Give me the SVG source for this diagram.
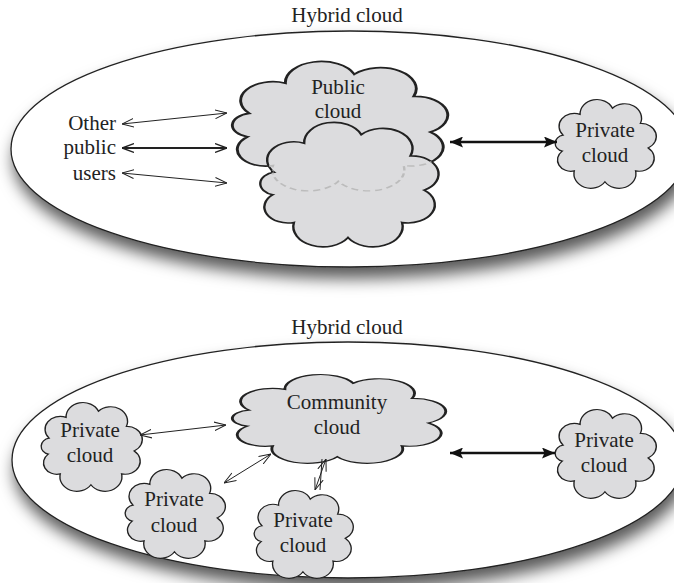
<svg xmlns="http://www.w3.org/2000/svg" xmlns:xlink="http://www.w3.org/1999/xlink" width="674" height="583" viewBox="0 0 674 583">
<style>
.lbl{font-family:"Liberation Serif","Times New Roman",serif;font-size:21px;fill:#222;text-anchor:middle}
.lblr{font-family:"Liberation Serif","Times New Roman",serif;font-size:21px;fill:#222;text-anchor:end}
.cloud{fill:#dcdcde;stroke:#222;stroke-width:1.2;vector-effect:non-scaling-stroke}
.hidden{fill:none;stroke:#bcbcbc;stroke-width:1;stroke-dasharray:3 2;vector-effect:non-scaling-stroke}
.hyb{fill:#fff;stroke:#222;stroke-width:1.3;filter:url(#shadow)}
.thin{fill:none;stroke:#222;stroke-width:1;marker-start:url(#open);marker-end:url(#open)}
.mid{fill:none;stroke:#222;stroke-width:2;marker-start:url(#open2);marker-end:url(#open2)}
.thick{fill:none;stroke:#111;stroke-width:2.6;marker-start:url(#solid);marker-end:url(#solid)}
</style>
<defs>
<filter id="shadow" x="-10%" y="-20%" width="125%" height="155%">
<feDropShadow dx="3" dy="11" stdDeviation="8" flood-color="#000" flood-opacity="0.65"/>
</filter>
<path id="cl" d="M13.3,40.2 A13.3,13.3 0 0 1 28.2,18.9 A14.8,14.8 0 0 1 56.6,12.6 A14.8,14.8 0 0 1 81.1,28.2 A13.3,13.3 0 0 1 87.9,53.3 A13.3,13.3 0 0 1 76.9,76.9 A14.8,14.8 0 0 1 50,88 A14.8,14.8 0 0 1 23.1,76.9 A11.7,11.7 0 0 1 12.6,56.6 A8.4,8.4 0 0 1 13.3,40.2 Z"/>
<clipPath id="lowclip"><use xlink:href="#cl" href="#cl" transform="translate(247.54,117.4) scale(2.009,1.366)"/></clipPath>
<marker id="open" viewBox="0 0 12 10" refX="12" refY="5" markerWidth="12" markerHeight="10" markerUnits="userSpaceOnUse" orient="auto-start-reverse"><path d="M0,0.6 L12,5 L0,9.4" fill="none" stroke="#222" stroke-width="1"/></marker>
<marker id="open2" viewBox="0 0 12 10" refX="12" refY="5" markerWidth="12" markerHeight="10" markerUnits="userSpaceOnUse" orient="auto-start-reverse"><path d="M0,0.6 L12,5 L0,9.4" fill="none" stroke="#222" stroke-width="1.4"/></marker>
<marker id="solid" viewBox="0 0 13 11" refX="13" refY="5.5" markerWidth="13" markerHeight="11" markerUnits="userSpaceOnUse" orient="auto-start-reverse"><path d="M0,0 L13,5.5 L0,11 L2.5,5.5 Z" fill="#111"/></marker>
</defs>
<rect width="674" height="583" fill="#fff"/>

<g id="hybrid-top">
<ellipse class="hyb" cx="350" cy="149" rx="339" ry="118"/>
<text class="lbl" x="347" y="22">Hybrid cloud</text>
</g>
<g id="public-cloud">
<use class="cloud" xlink:href="#cl" href="#cl" transform="translate(216.95,56.35) scale(2.427,1.42)"/>
<text class="lbl" x="338" y="94">Public</text>
<text class="lbl" x="338" y="118">cloud</text>
</g>
<g id="public-cloud-2">
<use class="cloud" xlink:href="#cl" href="#cl" transform="translate(247.54,117.4) scale(2.009,1.366)"/>
<g clip-path="url(#lowclip)"><use class="hidden" xlink:href="#cl" href="#cl" transform="translate(216.95,56.35) scale(2.427,1.42)"/></g>
</g>
<g id="users">
<text class="lblr" x="116" y="130">Other</text>
<text class="lblr" x="116" y="154">public</text>
<text class="lblr" x="116" y="180">users</text>
</g>
<g id="private-top">
<use class="cloud" xlink:href="#cl" href="#cl" transform="translate(547.93,96) scale(1.14,0.974)"/>
<text class="lbl" x="605" y="137">Private</text>
<text class="lbl" x="605" y="162">cloud</text>
</g>

<g id="hybrid-bottom">
<ellipse class="hyb" cx="348" cy="460" rx="336" ry="118"/>
<text class="lbl" x="347" y="334">Hybrid cloud</text>
</g>
<g id="community-cloud">
<use class="cloud" xlink:href="#cl" href="#cl" transform="translate(217.1,371) scale(2.404,0.974)"/>
<text class="lbl" x="337" y="409">Community</text>
<text class="lbl" x="337" y="434">cloud</text>
</g>
<g id="private-b1">
<use class="cloud" xlink:href="#cl" href="#cl" transform="translate(33.93,399) scale(1.14,0.974)"/>
<text class="lbl" x="90" y="437">Private</text>
<text class="lbl" x="90" y="462">cloud</text>
</g>
<g id="private-b2">
<use class="cloud" xlink:href="#cl" href="#cl" transform="translate(118,466) scale(1.129,0.974)"/>
<text class="lbl" x="174" y="506">Private</text>
<text class="lbl" x="174" y="532">cloud</text>
</g>
<g id="private-b3">
<use class="cloud" xlink:href="#cl" href="#cl" transform="translate(247.07,487.05) scale(1.117,0.963)"/>
<text class="lbl" x="303" y="527">Private</text>
<text class="lbl" x="303" y="552">cloud</text>
</g>
<g id="private-b4">
<use class="cloud" xlink:href="#cl" href="#cl" transform="translate(547.93,406) scale(1.14,0.974)"/>
<text class="lbl" x="604" y="447">Private</text>
<text class="lbl" x="604" y="472">cloud</text>
</g>

<g id="connectors">
<path class="thin" d="M122,124 L227,113"/>
<path class="mid" d="M122,148 L227,148"/>
<path class="thin" d="M122,173 L227,183"/>
<path class="thick" d="M450,142 L557,142"/>
<path class="thin" d="M140,435 L226,425"/>
<path class="thin" d="M224,483 L271,454"/>
<path class="thin" d="M315,490 L326,459"/>
<path d="M320,490 L322,459" fill="none" stroke="#222" stroke-width="1"/>
<path class="thick" d="M450,453 L555,453"/>
</g>
</svg>
